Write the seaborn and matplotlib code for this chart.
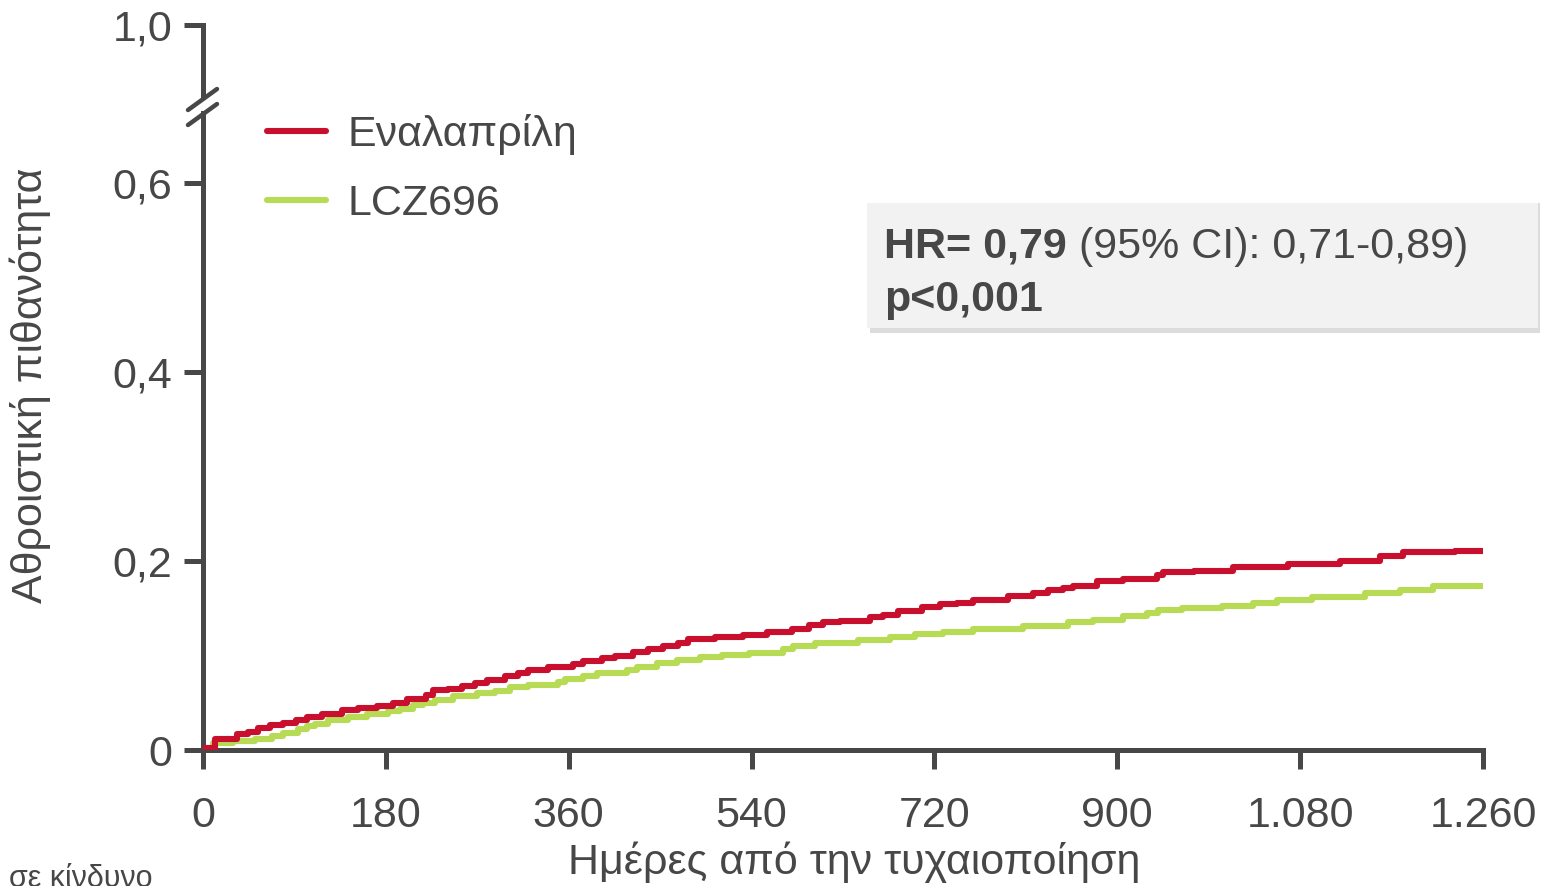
import numpy as np
import pandas as pd
import seaborn as sns
import matplotlib.pyplot as plt
from matplotlib.lines import Line2D
from matplotlib.patches import Rectangle
from matplotlib.text import Annotation

# step curves (day where each step starts, cumulative probability)
enal_days = [0, 12, 33, 44, 54, 66, 79, 92, 102, 117, 137, 153, 171, 187, 201, 220, 226, 241,
             255, 268, 280, 297, 310, 320, 340, 364, 374, 393, 406, 423, 438, 453, 468, 477,
             504, 532, 555, 580, 597, 610, 627, 657, 669, 684, 708, 725, 742, 758, 792, 817,
             832, 847, 856, 880, 906, 939, 945, 976, 1014, 1068, 1119, 1159, 1181, 1232, 1260]
enal_vals = [0.002, 0.012, 0.017, 0.019, 0.023, 0.026, 0.029, 0.032, 0.035, 0.038, 0.042, 0.044,
             0.047, 0.050, 0.054, 0.058, 0.063, 0.065, 0.068, 0.071, 0.074, 0.078, 0.081, 0.085,
             0.088, 0.091, 0.094, 0.097, 0.100, 0.104, 0.107, 0.110, 0.113, 0.117, 0.120, 0.122,
             0.125, 0.128, 0.132, 0.135, 0.137, 0.141, 0.143, 0.147, 0.151, 0.154, 0.156, 0.159,
             0.163, 0.166, 0.169, 0.171, 0.174, 0.179, 0.181, 0.185, 0.188, 0.189, 0.194, 0.197,
             0.200, 0.205, 0.209, 0.211, 0.211]

lcz_days = [0, 10, 30, 51, 68, 79, 94, 102, 110, 123, 143, 161, 182, 194, 207, 217, 228, 246,
            270, 287, 302, 320, 349, 356, 374, 388, 417, 427, 447, 467, 489, 511, 537, 571, 581,
            602, 645, 676, 701, 728, 758, 807, 851, 876, 906, 929, 940, 964, 1003, 1034, 1057,
            1092, 1144, 1178, 1211, 1260]
lcz_vals = [0.001, 0.007, 0.010, 0.012, 0.015, 0.018, 0.022, 0.025, 0.028, 0.032, 0.035, 0.038,
            0.041, 0.043, 0.048, 0.050, 0.053, 0.057, 0.060, 0.062, 0.067, 0.069, 0.072, 0.075,
            0.078, 0.082, 0.085, 0.088, 0.092, 0.095, 0.098, 0.101, 0.103, 0.107, 0.110, 0.113,
            0.116, 0.120, 0.123, 0.125, 0.128, 0.131, 0.135, 0.138, 0.142, 0.145, 0.148, 0.150,
            0.152, 0.156, 0.159, 0.162, 0.166, 0.169, 0.174, 0.174]

x_ticks = [0, 180, 360, 540, 720, 900, 1080, 1260]
x_labels = ['0', '180', '360', '540', '720', '900', '1.080', '1.260']
y_ticks = [0, 0.2, 0.4, 0.6]
y_labels = ['0', '0,2', '0,4', '0,6']

RED = '#c8102e'
GREEN = '#b8db55'
INK = '#474747'
FS = 31
W, H = 1549, 886

sns.set_theme(style='white')
plt.rcParams['font.family'] = ['Liberation Sans', 'DejaVu Sans']

fig = plt.figure(figsize=(W / 100, H / 100), dpi=100)


def fx(px):
    return px / W


def fy(py):
    return 1 - py / H


ax = fig.add_axes([fx(203), fy(750), fx(1483) - fx(203), fy(113) - fy(750)])
ax_top = fig.add_axes([fx(203), fy(97), fx(1483) - fx(203), fy(25) - fy(97)])

enal = pd.DataFrame({'day': enal_days, 'p': enal_vals})
lcz = pd.DataFrame({'day': lcz_days, 'p': lcz_vals})
sns.lineplot(data=enal, x='day', y='p', ax=ax, color=RED, lw=4.4, drawstyle='steps-post',
             label='Εναλαπρίλη', estimator=None, zorder=4)
sns.lineplot(data=lcz, x='day', y='p', ax=ax, color=GREEN, lw=4.4, drawstyle='steps-post',
             label='LCZ696', estimator=None, zorder=3)

ax.set_xlim(0, 1260)
ax.set_ylim(0, (750 - 113) / 945)
ax.set_xticks(x_ticks, x_labels)
ax.set_yticks(y_ticks, y_labels)
ax.set_xlabel('')
ax.set_ylabel('')

ax_top.set_xlim(0, 1260)
ax_top.set_ylim(1 - 72 / 945, 1.0)
ax_top.set_xticks([])
ax_top.set_yticks([1.0], ['1,0'])

for a in (ax, ax_top):
    a.set_facecolor('none')
    for s in a.spines.values():
        s.set_visible(False)
    a.spines['left'].set_visible(True)
    a.spines['left'].set_color(INK)
    a.spines['left'].set_linewidth(3.6)
    a.tick_params(axis='both', which='major', direction='out', length=14, width=3.6,
                  color=INK, labelcolor=INK, labelsize=FS, left=True, pad=8)
ax.spines['bottom'].set_visible(True)
ax.spines['bottom'].set_color(INK)
ax.spines['bottom'].set_linewidth(3.6)
ax.tick_params(axis='x', bottom=True, pad=19)

# axis break marks
for y0, y1 in [(110, 89), (125, 104)]:
    fig.add_artist(Line2D([fx(188), fx(217)], [fy(y0), fy(y1)], color=INK, lw=3.2))

leg = ax.legend(loc='upper left', bbox_to_anchor=(fx(267), fy(114)), bbox_transform=fig.transFigure,
                frameon=False, fontsize=FS, handlelength=1.37, handletextpad=0.5,
                labelspacing=0.68, borderaxespad=0, borderpad=0)
for t in leg.get_texts():
    t.set_color(INK)

# HR annotation box with a soft shadow
fig.add_artist(Rectangle((fx(870), fy(333)), fx(1540) - fx(870), fy(203) - fy(333),
                         transform=fig.transFigure, color='#dcdcdc', lw=0, zorder=1))
fig.add_artist(Rectangle((fx(867), fy(328)), fx(1538) - fx(867), fy(203) - fy(328),
                         transform=fig.transFigure, color='#f2f2f2', lw=0, zorder=2))
t1 = fig.text(fx(884), fy(258), 'HR= 0,79', fontsize=FS, fontweight='bold', color=INK,
              va='baseline', zorder=5)
fig.add_artist(Annotation(' (95% CI): 0,71-0,89)', xy=(1, 0), xycoords=t1, fontsize=FS,
                          color=INK, va='bottom', ha='left', annotation_clip=False, zorder=5))
fig.text(fx(884), fy(311), 'p<0,001', fontsize=FS, fontweight='bold', color=INK,
         va='baseline', zorder=5)

fig.text(fx(854), fy(862), 'Ημέρες από την τυχαιοποίηση', fontsize=FS, color=INK,
         ha='center', va='center')
fig.text(fx(30), fy(385), 'Αθροιστική πιθανότητα', fontsize=FS, color=INK, rotation=90,
         ha='center', va='center')
fig.text(fx(9), fy(887), 'σε κίνδυνο', fontsize=22, color=INK, va='baseline')

fig.savefig('out.png', dpi=100)
